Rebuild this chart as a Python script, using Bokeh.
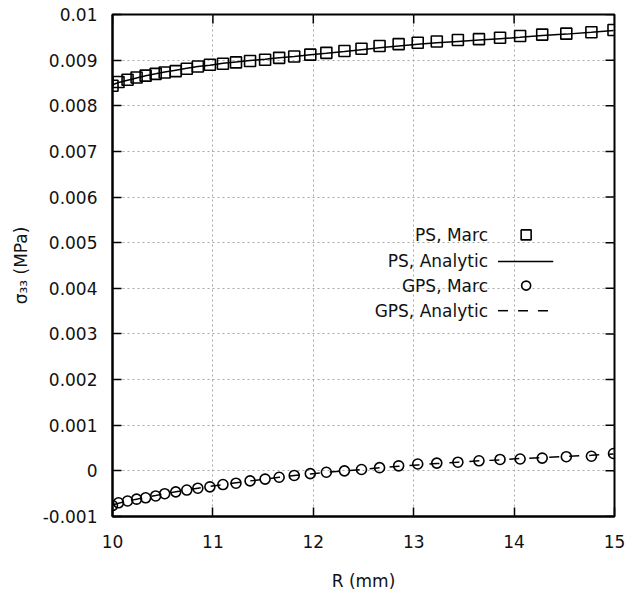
from bokeh.plotting import figure
from bokeh.models import ColumnDataSource, FixedTicker, Range1d, Label
from bokeh.embed import file_html
from bokeh.resources import INLINE

# Radial positions (mm) of the mesh nodes
radius = [10.00, 10.06, 10.15, 10.24, 10.33, 10.43, 10.52, 10.63, 10.74, 10.85,
          10.97, 11.10, 11.23, 11.37, 11.52, 11.66, 11.81, 11.97, 12.13, 12.31,
          12.48, 12.66, 12.85, 13.04, 13.23, 13.44, 13.65, 13.86, 14.06, 14.28,
          14.52, 14.77, 14.99]

# Plane strain, axial stress (MPa)
ps_marc = [0.00844, 0.00852, 0.00857, 0.00862, 0.00866, 0.00870, 0.00873, 0.00876,
           0.00881, 0.00886, 0.00890, 0.00892, 0.00895, 0.00898, 0.00901, 0.00905,
           0.00908, 0.00912, 0.00916, 0.00920, 0.00925, 0.00931, 0.00935, 0.00938,
           0.00941, 0.00944, 0.00946, 0.00949, 0.00953, 0.00956, 0.00958, 0.00961,
           0.00966]
ps_analytic = [0.00846, 0.00851, 0.00856, 0.00861, 0.00866, 0.00870, 0.00874, 0.00878,
               0.00882, 0.00886, 0.00889, 0.00893, 0.00896, 0.00899, 0.00902, 0.00905,
               0.00908, 0.00912, 0.00915, 0.00919, 0.00923, 0.00927, 0.00931, 0.00935,
               0.00938, 0.00941, 0.00944, 0.00947, 0.00950, 0.00954, 0.00957, 0.00961,
               0.00965]

# Generalised plane strain, axial stress (MPa)
gps_marc = [-0.00076, -0.00070, -0.00066, -0.00062, -0.00059, -0.00055, -0.00050,
            -0.00046, -0.00042, -0.00038, -0.00035, -0.00030, -0.00027, -0.00022,
            -0.00018, -0.00014, -0.00010, -0.00006, -0.00003, 0.00000, 0.00003,
            0.00007, 0.00011, 0.00015, 0.00017, 0.00019, 0.00022, 0.00025, 0.00026,
            0.00028, 0.00031, 0.00032, 0.00038]
gps_analytic = [-0.00075, -0.00071, -0.00066, -0.00062, -0.00058, -0.00054, -0.00050,
                -0.00046, -0.00042, -0.00038, -0.00034, -0.00030, -0.00026, -0.00022,
                -0.00018, -0.00014, -0.00010, -0.00007, -0.00003, 0.00000, 0.00003,
                0.00007, 0.00010, 0.00013, 0.00016, 0.00019, 0.00022, 0.00024, 0.00027,
                0.00029, 0.00032, 0.00034, 0.00037]

x_ticks = [10, 11, 12, 13, 14, 15]
y_ticks = [-0.001, 0.0, 0.001, 0.002, 0.003, 0.004, 0.005, 0.006, 0.007, 0.008, 0.009, 0.01]
y_tick_labels = ["-0.001", "0", "0.001", "0.002", "0.003", "0.004", "0.005",
                 "0.006", "0.007", "0.008", "0.009", "0.01"]

legend_labels = ["PS, Marc", "PS, Analytic", "GPS, Marc", "GPS, Analytic"]

FONT = "DejaVu Sans"
TXT = "#111111"
X_MIN, X_MAX = 10, 15
Y_MIN, Y_MAX = -0.001, 0.01

src = ColumnDataSource(dict(r=radius, ps_m=ps_marc, ps_a=ps_analytic,
                            gps_m=gps_marc, gps_a=gps_analytic))

p = figure(width=626, height=596, output_backend="svg", toolbar_location=None,
           x_range=Range1d(X_MIN, X_MAX), y_range=Range1d(Y_MIN, Y_MAX),
           min_border_left=112, min_border_right=12, min_border_top=14,
           min_border_bottom=80)
p.background_fill_color = "white"
p.border_fill_color = "white"
p.outline_line_color = "black"
p.outline_line_width = 2

# dotted grid
for g in (p.xgrid[0], p.ygrid[0]):
    g.grid_line_color = "#a8a8a8"
    g.grid_line_dash = "2 3"
    g.grid_line_width = 1

# curves
p.line("r", "ps_a", source=src, line_color="black", line_width=1.5)
p.line("r", "gps_a", source=src, line_color="black", line_width=1.5, line_dash="10 10")
p.scatter("r", "ps_m", source=src, marker="square", size=11, fill_color=None,
          line_color="black", line_width=1.6)
p.scatter("r", "gps_m", source=src, marker="circle", size=10, fill_color=None,
          line_color="black", line_width=1.6)

# axes
p.xaxis.ticker = FixedTicker(ticks=x_ticks)
p.yaxis.ticker = FixedTicker(ticks=y_ticks)
p.yaxis.major_label_overrides = dict(zip(y_ticks, y_tick_labels))
p.xaxis.axis_label = "R (mm)"
p.yaxis.axis_label = "σ₃₃ (MPa)"
for ax in (p.xaxis[0], p.yaxis[0]):
    ax.major_tick_in = 9
    ax.major_tick_out = 0
    ax.minor_tick_in = 0
    ax.minor_tick_out = 0
    ax.major_tick_line_width = 1.5
    ax.axis_line_width = 2
    ax.major_label_text_font = FONT
    ax.major_label_text_font_size = "17px"
    ax.major_label_text_color = TXT
    ax.axis_label_text_font = FONT
    ax.axis_label_text_font_size = "17px"
    ax.axis_label_text_font_style = "normal"
    ax.axis_label_text_color = TXT
p.xaxis.major_label_standoff = 18
p.xaxis.axis_label_standoff = 20
p.yaxis.major_label_standoff = 15
p.yaxis.axis_label_standoff = 9

# mirrored inward ticks on the top and right borders (9 px long)
tick_dy = 9 * (Y_MAX - Y_MIN) / 502
tick_dx = 9 * (X_MAX - X_MIN) / 502
p.segment(x0=x_ticks, y0=[Y_MAX] * len(x_ticks), x1=x_ticks,
          y1=[Y_MAX - tick_dy] * len(x_ticks), line_color="black", line_width=1.5)
p.segment(x0=[X_MAX] * len(y_ticks), y0=y_ticks, x1=[X_MAX - tick_dx] * len(y_ticks),
          y1=y_ticks, line_color="black", line_width=1.5)

# key: text right-aligned, sample to its right
key_text_x = 13.74
key_sample_x = 14.12
key_line_x = [13.84, 14.39]
key_rows = [0.00517, 0.00459, 0.00406, 0.00351]
for lbl, yv in zip(legend_labels, key_rows):
    p.add_layout(Label(x=key_text_x, y=yv, text=lbl, text_align="right",
                       text_baseline="middle", text_font=FONT,
                       text_font_size="17px", text_color=TXT))
p.scatter([key_sample_x], [key_rows[0]], marker="square", size=10, fill_color=None,
          line_color="black", line_width=1.6)
p.line(key_line_x, [key_rows[1]] * 2, line_color="black", line_width=1.5)
p.scatter([key_sample_x], [key_rows[2]], marker="circle", size=9, fill_color=None,
          line_color="black", line_width=1.6)
p.line(key_line_x, [key_rows[3]] * 2, line_color="black", line_width=1.5,
       line_dash="10 10")

open("out.html", "w").write(file_html(p, INLINE))
